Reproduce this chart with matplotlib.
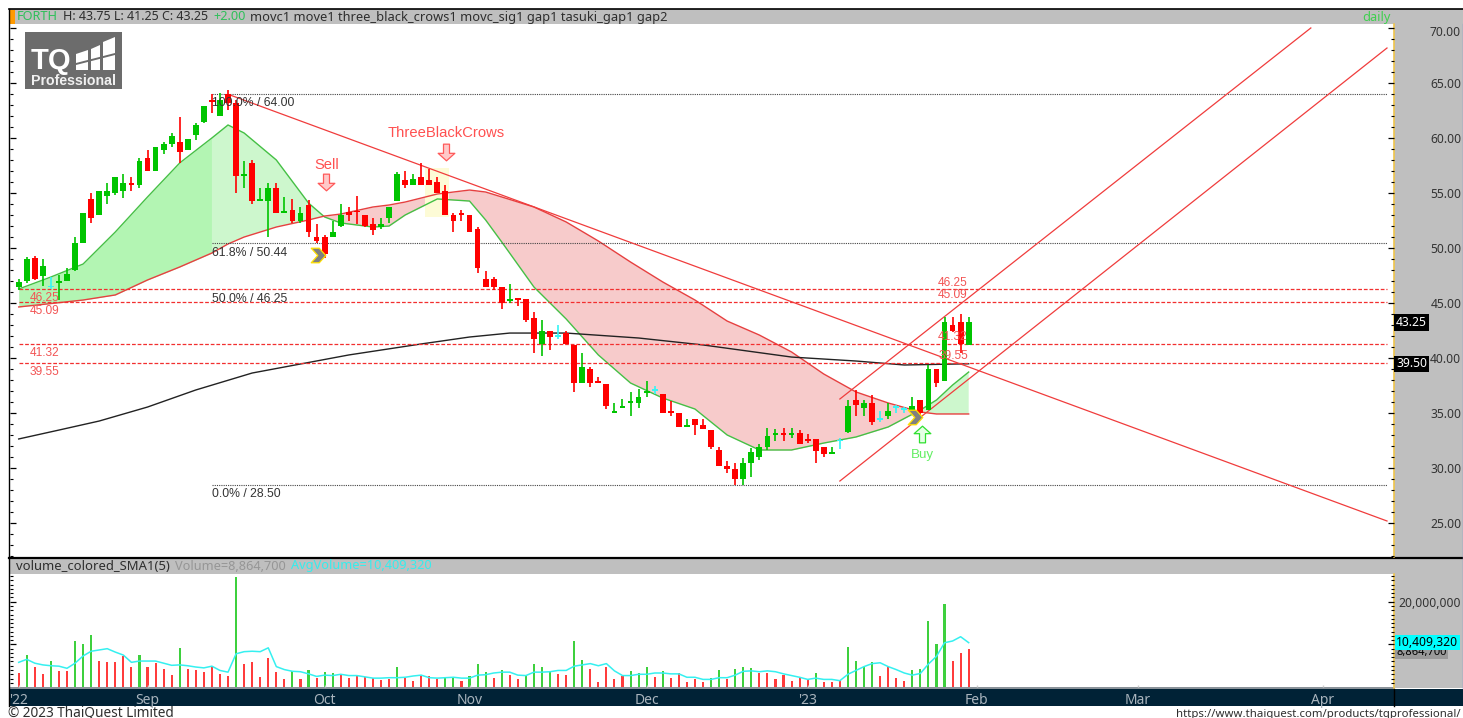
import matplotlib
matplotlib.use("Agg")
import matplotlib.pyplot as plt
import numpy as np
from matplotlib.patches import Rectangle, Polygon
from matplotlib.path import Path
from matplotlib.ticker import MultipleLocator

plt.rcParams['font.family'] = ['Noto Sans', 'DejaVu Sans']

# precios diarios
opens = [46.50,47.05,49.14,47.47,46.44,46.81,47.05,48.02,50.50,54.47,53.01,54.77,55.04,55.22,55.95,55.74,58.19,57.04,58.95,59.46,
         59.67,58.92,60.31,61.46,63.46,62.00,63.97,63.15,56.55,57.70,54.25,54.28,55.43,53.22,53.47,52.47,53.95,50.98,50.98,51.04,
         52.01,53.28,53.40,53.01,52.16,51.95,52.74,54.25,56.19,55.74,56.49,56.19,55.98,55.19,52.98,53.13,53.01,51.71,47.17,47.17,
         46.44,45.23,45.41,45.41,43.66,41.26,42.45,41.96,42.26,41.20,37.72,38.99,37.90,37.66,35.06,35.48,35.97,35.97,36.81,37.06,
         36.73,35.24,35.00,33.73,34.45,33.94,33.49,31.67,30.19,29.91,29.04,30.52,31.06,31.97,33.03,33.24,33.03,33.24,32.70,32.70,
         31.91,31.31,32.46,33.27,36.21,35.45,35.91,34.39,34.76,35.48,35.30,35.24,36.21,35.30,39.00,37.97,43.02,43.26,41.25]
highs = [47.17,49.17,49.29,48.99,47.41,47.56,48.23,50.98,53.16,54.98,55.16,55.95,56.46,56.74,56.49,58.16,58.92,59.16,59.67,60.43,
         61.94,59.95,61.40,62.91,63.97,64.06,64.37,63.46,57.95,58.01,55.43,55.95,55.95,54.68,54.47,53.71,54.37,52.19,51.20,52.47,
         53.98,53.71,54.74,53.01,52.71,52.71,53.71,56.95,57.01,56.74,57.76,57.16,56.49,55.71,53.16,53.47,53.01,51.95,47.96,47.41,
         46.44,46.74,45.41,45.41,44.20,43.47,42.45,42.99,42.45,41.20,40.51,39.18,38.27,37.66,35.91,36.27,36.97,37.18,37.96,37.48,
         36.73,36.15,35.00,34.45,34.45,34.45,33.49,31.91,30.70,30.46,30.97,31.82,32.21,33.67,33.55,33.67,33.67,33.49,33.12,32.70,
         31.91,31.91,32.73,36.21,37.12,36.21,36.66,35.21,35.91,35.76,35.61,36.45,36.21,39.39,39.00,43.78,43.72,43.99,43.75]
lows = [46.20,46.81,47.11,46.56,46.26,45.29,47.05,47.96,50.50,52.26,53.01,54.01,54.83,54.53,55.22,55.43,57.04,57.04,58.52,59.22,
        57.77,58.92,59.82,61.34,62.25,62.00,62.55,55.04,55.49,54.01,54.25,51.04,53.22,53.22,52.32,52.32,51.04,50.44,49.08,51.04,
        51.95,52.47,52.19,51.95,51.19,51.71,52.25,54.25,55.43,55.74,55.74,55.74,55.04,53.01,51.47,52.50,51.50,47.71,46.50,46.20,
        44.50,45.05,44.78,43.32,40.51,40.21,40.75,41.72,41.26,36.97,37.72,37.42,37.72,35.36,35.06,35.45,34.76,35.45,36.51,36.76,
        35.00,34.76,33.73,33.73,33.03,33.58,31.73,30.25,29.61,28.49,28.49,29.25,30.76,31.67,32.52,32.52,32.73,32.24,32.27,30.52,
        31.00,31.31,31.73,33.18,34.76,34.76,33.97,34.24,34.45,35.00,35.00,35.00,34.85,35.30,37.42,37.97,42.42,40.45,41.25]
closes = [46.96,48.99,47.17,48.41,46.44,47.02,47.65,50.44,53.16,52.77,55.16,55.16,56.46,55.95,55.77,57.95,57.04,59.16,59.46,60.19,
          58.76,59.95,61.16,62.91,63.28,63.46,63.15,56.55,56.74,54.28,54.47,55.43,53.22,53.41,52.50,53.16,51.47,50.68,49.47,51.44,
          53.01,53.01,53.25,52.01,51.65,52.19,53.71,56.74,55.74,56.25,55.74,55.74,55.04,53.01,52.50,53.01,51.50,48.23,46.50,46.50,
          45.05,45.41,45.29,43.47,41.72,42.45,41.96,41.96,41.26,37.72,39.24,37.72,37.72,35.69,35.24,35.66,36.15,36.45,37.00,37.06,
          35.00,35.00,33.73,33.91,33.94,33.58,31.97,30.25,29.97,29.01,30.46,31.49,31.91,32.97,33.24,33.03,33.24,32.24,32.46,31.55,
          31.28,31.49,32.46,35.67,35.73,35.91,34.21,34.39,35.21,35.48,35.30,35.67,35.06,39.00,37.72,43.26,42.51,41.27,43.25]

# volumen en millones
volumes = [3.3,7.5,4.8,3.0,6.2,3.8,3.8,10.8,10.2,12.1,6.2,5.8,5.8,7.3,4.8,7.5,4.8,5.7,4.2,2.8,
           9.1,4.2,4.0,3.5,4.8,3.1,2.7,25.9,5.3,5.8,2.4,6.8,3.5,1.8,3.8,1.8,3.9,2.2,3.5,3.2,
           2.8,2.1,2.7,2.4,2.1,1.6,1.8,4.8,2.2,1.5,2.5,2.7,1.8,2.1,2.3,1.5,2.6,5.5,3.5,2.2,
           4.0,2.8,1.9,2.7,5.5,4.8,3.6,3.1,2.8,10.8,6.4,4.2,1.2,4.7,1.8,2.5,3.8,3.3,4.7,2.4,
           3.8,2.2,3.2,1.1,1.9,1.2,2.2,3.9,2.0,4.2,4.8,4.4,3.3,3.3,1.8,2.9,1.5,2.1,1.7,3.3,
           1.1,1.1,1.6,9.5,6.2,4.6,5.9,2.6,4.6,2.1,1.5,3.9,4.2,15.5,10.2,19.5,6.2,7.9,8.8647]
# color de cada barra de volumen, g=verde r=rojo
vol_colors = ("rgrrgrrgggrrrrrgrrrrgrrrrrrgrrrrrrgrgrgg"
              "rrrrrrrgrrrrrggrgggr"
              "grrggggrrggrrrrrgggr"
              "grrrrrggrgggrrrrrrrg"
              "rrrggggrrrrgggggrrr")
avg_volumes = [5.8,6.5,5.6,5.2,5.0,4.9,4.4,5.6,7.3,8.4,8.7,9.0,8.2,7.5,5.8,6.1,6.1,6.1,5.6,5.1,
               5.2,5.0,4.7,4.5,4.9,3.9,3.5,7.8,8.3,8.4,8.3,9.2,4.8,4.1,3.7,3.6,3.1,2.5,2.8,2.7,
               3.0,2.7,2.7,2.4,2.1,2.1,2.2,2.2,2.3,2.6,2.8,2.2,2.1,2.2,2.3,2.1,2.1,2.8,2.9,3.3,
               3.5,3.5,2.8,2.7,3.5,3.5,3.6,3.9,3.9,4.9,5.2,5.5,5.0,5.5,3.8,2.7,2.7,3.0,3.0,3.3,
               3.3,3.1,3.1,2.3,2.3,1.8,1.8,2.2,2.2,2.8,3.7,3.8,3.6,3.8,3.6,3.1,2.7,2.3,1.8,2.1,
               1.8,1.8,1.5,3.0,3.9,4.8,5.5,5.7,4.8,4.1,3.3,2.8,3.2,5.4,7.2,10.4,10.8,11.8,10.41]

ma_bars = [0,4,8,12,16,20,24,26,28,32,36,38,40,44,46,48,52,56,58,60,64,68,72,76,80,84,88,92,96,100,104,108,112,114,116,118]
fast_ma = [46.29,47.38,48.56,51.47,54.65,57.74,60.01,61.19,60.46,58.01,54.10,52.83,52.29,51.92,52.01,53.01,54.47,54.28,52.56,50.56,
           46.47,43.57,40.30,37.75,36.39,35.39,33.03,31.67,31.67,32.30,32.85,33.76,35.30,36.21,37.57,38.75]
slow_ma = [44.66,44.97,45.29,45.75,47.11,48.29,49.56,50.38,51.01,51.92,52.56,52.92,53.10,53.74,53.92,54.19,54.92,55.28,55.10,54.65,
           53.74,52.38,50.65,48.74,46.93,45.29,43.38,42.11,40.57,38.57,36.94,35.94,35.12,34.94,34.94,34.94]
long_bars = [0,5,10,16,22,29,35,41,50,56,61,68,77,85,96,104,110,118]
long_ma = [32.67,33.48,34.30,35.57,37.12,38.66,39.48,40.30,41.30,41.93,42.29,42.29,41.84,41.21,40.11,39.75,39.39,39.50]

# lineas de tendencia (barra, precio)
trend_down = ([26.26, 169.96], [63.91, 25.22])
channel_up = ([102.0, 160.5], [36.30, 70.00])
channel_low = ([102.0, 169.96], [28.85, 68.18])

fib_levels = [64.00, 50.44, 28.50]
fib_labels = ['100.0% / 64.00', '61.8% / 50.44', '50.0% / 46.25', '0.0% / 28.50']
fib_label_prices = [63.2, 49.6, 45.35, 27.7]
gap_levels = [46.25, 45.09, 41.32, 39.55]
gap_labels = ['46.25', '45.09', '41.32', '39.55']

month_bars = [0, 16, 38, 56, 78, 98, 119, 139, 162]
month_labels = ["'22", 'Sep', 'Oct', 'Nov', 'Dec', "'23", 'Feb', 'Mar', 'Apr']
price_ticks = [25, 30, 35, 40, 45, 50, 55, 60, 65, 70]

W, H = 1463, 718
RED_TXT = '#f25555'
DARK = '#2e2e2e'


def caja(x0, y0, x1, y1):
    # pasa pixeles de la imagen a rect de add_axes
    return [x0 / W, 1 - y1 / H, (x1 - x0) / W, (y1 - y0) / H]


fig = plt.figure(figsize=(W / 100, H / 100), dpi=100, facecolor='white')

# fondo: barras grises, panel derecho, logo
bg = fig.add_axes([0, 0, 1, 1])
bg.set_xlim(0, W)
bg.set_ylim(H, 0)
bg.axis('off')
bg.add_patch(Rectangle((9, 9), W - 9, 15, fc='#bfbfbf', ec='none'))
bg.add_patch(Rectangle((10, 10), 5, 14, fc='#ff9a00', ec='none'))
bg.add_patch(Rectangle((1394, 24), 69, 664, fc='#bfbfbf', ec='none'))
bg.add_patch(Rectangle((9, 558), 1385, 16, fc='#bfbfbf', ec='none'))
bg.add_patch(Rectangle((9, 687), 1385, 2.5, fc='#8a9299', ec='none'))
bg.add_patch(Rectangle((9, 689), W - 9, 17, fc='#002236', ec='none'))
bg.plot([8.5, W], [8.5, 8.5], color='black', lw=1.2)
bg.plot([8.5, 8.5], [8.5, 706], color='black', lw=1.0)
bg.plot([9, W], [557.5, 557.5], color='black', lw=1.6)
bg.plot([1394, 1394], [24, 557], color='#efc44a', lw=1.2)
bg.plot([1394, 1394], [574, 688], color='#efc44a', lw=1.2)
bg.plot([1462.5, 1462.5], [24, 688], color='#7f8fc8', lw=1.0)
bg.plot([1394, 1394], [689, 706], color='black', lw=1.0)

# logo
bg.add_patch(Rectangle((25, 32), 97, 57, fc='#6c6c6c', ec='none'))
bg.text(31, 61, 'TQ', color='white', fontsize=21, fontweight='bold', va='center', ha='left', family='Liberation Sans')
bg.text(31, 81, 'Professional', color='#f0f0f0', fontsize=10.2, fontweight='bold', va='center', ha='left', family='Liberation Sans')
bg.add_patch(Polygon([[76, 70], [76, 54], [88, 50], [88, 70]], fc='white', ec='none'))
bg.add_patch(Polygon([[91, 70], [91, 49], [100, 45], [100, 70]], fc='white', ec='none'))
bg.add_patch(Polygon([[103, 70], [103, 42], [115, 37], [115, 70]], fc='white', ec='none'))
bg.add_patch(Polygon([[76, 63], [115, 53], [115, 55], [76, 65]], fc='#6c6c6c', ec='none'))

# textos de cabecera
bg.text(17, 17, 'FORTH', color='#2fbf5a', fontsize=9.2, va='center')
bg.text(63, 17, 'H: 43.75 L: 41.25 C: 43.25', color=DARK, fontsize=9.0, va='center')
bg.text(213, 17, '+2.00', color='#2fbf5a', fontsize=9.2, va='center')
bg.text(250, 17, 'movc1 move1 three_black_crows1 movc_sig1 gap1 tasuki_gap1 gap2', color=DARK, fontsize=9.25, va='center')
bg.text(1362, 17, 'daily', color='#3fd04f', fontsize=9.2, va='center')
bg.text(16, 566, 'volume_colored_SMA1(5)', color=DARK, fontsize=9.4, va='center')
bg.text(175, 566, 'Volume=8,864,700', color='#969696', fontsize=9.2, va='center')
bg.text(291, 566, 'AvgVolume=10,409,320', color='#33eeee', fontsize=9.2, va='center')
bg.text(8, 713, '© 2023 ThaiQuest Limited', color=DARK, fontsize=9.8, va='center')
bg.text(1461, 714, 'https://www.thaiquest.com/products/tqprofessional/', color=DARK, fontsize=8.2, va='center', ha='right')

# panel de precios
ax = fig.add_axes(caja(10, 24, 1394, 557), facecolor='none')
ax.set_xlim(-1.08, 170.83)
ax.set_ylim(21.95, 70.36)
bars = np.arange(len(closes))
mb = np.array(ma_bars)
fast = np.array(fast_ma)
slow = np.array(slow_ma)

# antes de la barra 24 el verde es mas oscuro
izq = mb <= 24
der = mb >= 24
ax.fill_between(mb[izq], fast[izq], slow[izq], color='#b3f5b3', lw=0)
ax.fill_between(mb[der], fast[der], slow[der], where=fast[der] >= slow[der], interpolate=True, color='#cdf7cd', lw=0)
ax.fill_between(mb[der], fast[der], slow[der], where=fast[der] <= slow[der], interpolate=True, color='#f7cbcb', lw=0)
ax.add_patch(Rectangle((50.5, 52.86), 3, 4.42, fc='#fdfbd6', ec='none', zorder=1))

ax.plot(ma_bars, fast_ma, color='#45c045', lw=1.0, zorder=2)
ax.plot(ma_bars, slow_ma, color='#e64040', lw=1.0, zorder=2)
ax.plot(long_bars, long_ma, color='#222222', lw=1.0, zorder=2)

for tl in (trend_down, channel_up, channel_low):
    ax.plot(tl[0], tl[1], color='#f03c3c', lw=0.9, zorder=3)
for lv in fib_levels:
    ax.plot([24.05, 170], [lv, lv], color='#444444', lw=0.8, ls=(0, (1, 1)), zorder=2)
for lv in gap_levels:
    ax.plot([0, 170], [lv, lv], color='#f22f2f', lw=0.9, ls=(0, (3, 1.5)), zorder=2)

# velas
for i in bars:
    if opens[i] == closes[i]:
        col = '#35f5f5'
    elif closes[i] > opens[i]:
        col = '#00c400'
    else:
        col = '#ff0000'
    ax.vlines(i, lows[i], highs[i], color=col, lw=1.2, zorder=4)
    alto = abs(closes[i] - opens[i])
    ax.add_patch(Rectangle((i - 0.36, min(opens[i], closes[i])), 0.72, max(alto, 0.14), fc=col, ec='none', zorder=4))

for etiqueta, precio in zip(fib_labels, fib_label_prices):
    ax.text(24.05, precio, etiqueta, color='#333333', fontsize=8.85, va='center', ha='left', family='Liberation Sans', zorder=5)
for etiqueta, precio in zip(gap_labels, gap_levels):
    ax.text(1.4, precio - 0.82, etiqueta, color=RED_TXT, fontsize=8.6, va='center', family='Liberation Sans', zorder=5)
    ax.text(114.2, precio + 0.62, etiqueta, color=RED_TXT, fontsize=8.6, va='center', family='Liberation Sans', zorder=5)

# flechas y señales
flecha_abajo = Path([(-0.36, 1), (0.36, 1), (0.36, -0.1), (1, -0.1), (0, -1), (-1, -0.1), (-0.36, -0.1), (-0.36, 1)], closed=True)
flecha_arriba = Path([(-0.36, -1), (0.36, -1), (0.36, 0.1), (1, 0.1), (0, 1), (-1, 0.1), (-0.36, 0.1), (-0.36, -1)], closed=True)
ax.text(38.2, 57.55, 'Sell', color='#ff5050', fontsize=10.6, ha='center', va='center', family='Liberation Sans', zorder=6)
ax.plot([38.2], [56.0], marker=flecha_abajo, ms=12, mfc='#ffc9c9', mec='#ff5a5a', mew=0.9, ls='none', zorder=6)
ax.text(53.1, 60.45, 'ThreeBlackCrows', color='#ff5050', fontsize=10.6, ha='center', va='center', family='Liberation Sans', zorder=6)
ax.plot([53.1], [58.73], marker=flecha_abajo, ms=12, mfc='#ffc9c9', mec='#ff5a5a', mew=0.9, ls='none', zorder=6)
ax.text(112.2, 31.25, 'Buy', color='#63ee63', fontsize=9.6, ha='center', va='center', family='Liberation Sans', zorder=6)
ax.plot([112.2], [33.12], marker=flecha_arriba, ms=12, mfc='#e5ffe5', mec='#2fe02f', mew=0.9, ls='none', zorder=6)

chevron = Path([(-1, 1), (0.1, 1), (1, 0), (0.1, -1), (-1, -1), (-0.1, 0), (-1, 1)], closed=True)
ax.plot([37.2], [49.42], marker=chevron, ms=10.5, mfc='#808080', mec='#ffe000', mew=0.9, ls='none', zorder=6)
ax.plot([111.3], [34.7], marker=chevron, ms=10.5, mfc='#808080', mec='#ffe000', mew=0.9, ls='none', zorder=6)

ax.yaxis.set_minor_locator(MultipleLocator(1))
ax.set_yticks(price_ticks)
# 70.00 queda un poco mas abajo de su marca, va aparte
ax.set_yticklabels([f'{p:.2f}' if p < 70 else '' for p in price_ticks], ha='right')
ax.tick_params(axis='y', which='major', left=True, right=True, labelleft=False, labelright=True,
               direction='in', length=4, width=0.9, pad=48.5, labelsize=8.7, labelcolor='#333333')
ax.tick_params(axis='y', which='minor', left=True, right=True, direction='in', length=2.2, width=0.8)
ax.tick_params(axis='x', bottom=False, labelbottom=False)
for sp in ax.spines.values():
    sp.set_visible(False)
ax.text(1.0485, 69.62, '70.00', transform=ax.get_yaxis_transform(), color='#333333', fontsize=8.7, va='center', ha='right', clip_on=False)

ax.text(1.0015, 43.25, '43.25', transform=ax.get_yaxis_transform(), color='white', fontsize=8.7, va='center', ha='left',
        bbox=dict(fc='black', ec='none', pad=1.2), clip_on=False, zorder=8)
ax.text(1.0015, 39.50, '39.50', transform=ax.get_yaxis_transform(), color='white', fontsize=8.7, va='center', ha='left',
        bbox=dict(fc='black', ec='none', pad=1.2), clip_on=False, zorder=8)

# panel de volumen
axv = fig.add_axes(caja(10, 574, 1394, 687), facecolor='none')
axv.set_xlim(-1.08, 170.83)
axv.set_ylim(0.02, 26.5)
colores = ['#3ed03e' if c == 'g' else '#ff3c3c' for c in vol_colors]
axv.bar(bars, volumes, width=0.26, color=colores, lw=0)
axv.plot(bars, avg_volumes, color='#35f0f0', lw=1.1)

axv.set_yticks([10, 20])
axv.set_yticklabels(['', '20,000,000'], ha='right')
axv.yaxis.set_minor_locator(MultipleLocator(1))
axv.tick_params(axis='y', which='major', left=True, right=True, labelleft=False, labelright=True,
                direction='in', length=4, width=0.9, pad=48.5, labelsize=8.7, labelcolor='#333333')
axv.tick_params(axis='y', which='minor', left=True, right=True, direction='in', length=2.2, width=0.8)
axv.set_xticks(month_bars)
axv.set_xticklabels(month_labels)
axv.tick_params(axis='x', direction='in', length=1.5, width=1, color='#d0d0d0', pad=4, labelsize=10, labelcolor='#a9b4bd')
for sp in axv.spines.values():
    sp.set_visible(False)

# la caja cyan tapa parte del volumen, igual que en la original
axv.text(1.0015, 8.2, '8,864,700', transform=axv.get_yaxis_transform(), color='black', fontsize=8.0, va='center', ha='left',
         bbox=dict(fc='#9a9a9a', ec='none', pad=1.0), clip_on=False, zorder=8)
axv.text(1.0015, 10.409, '10,409,320', transform=axv.get_yaxis_transform(), color='black', fontsize=8.7, va='center', ha='left',
         bbox=dict(fc='#00ffff', ec='none', pad=1.0), clip_on=False, zorder=9)

fig.savefig('out.png', dpi=100)
